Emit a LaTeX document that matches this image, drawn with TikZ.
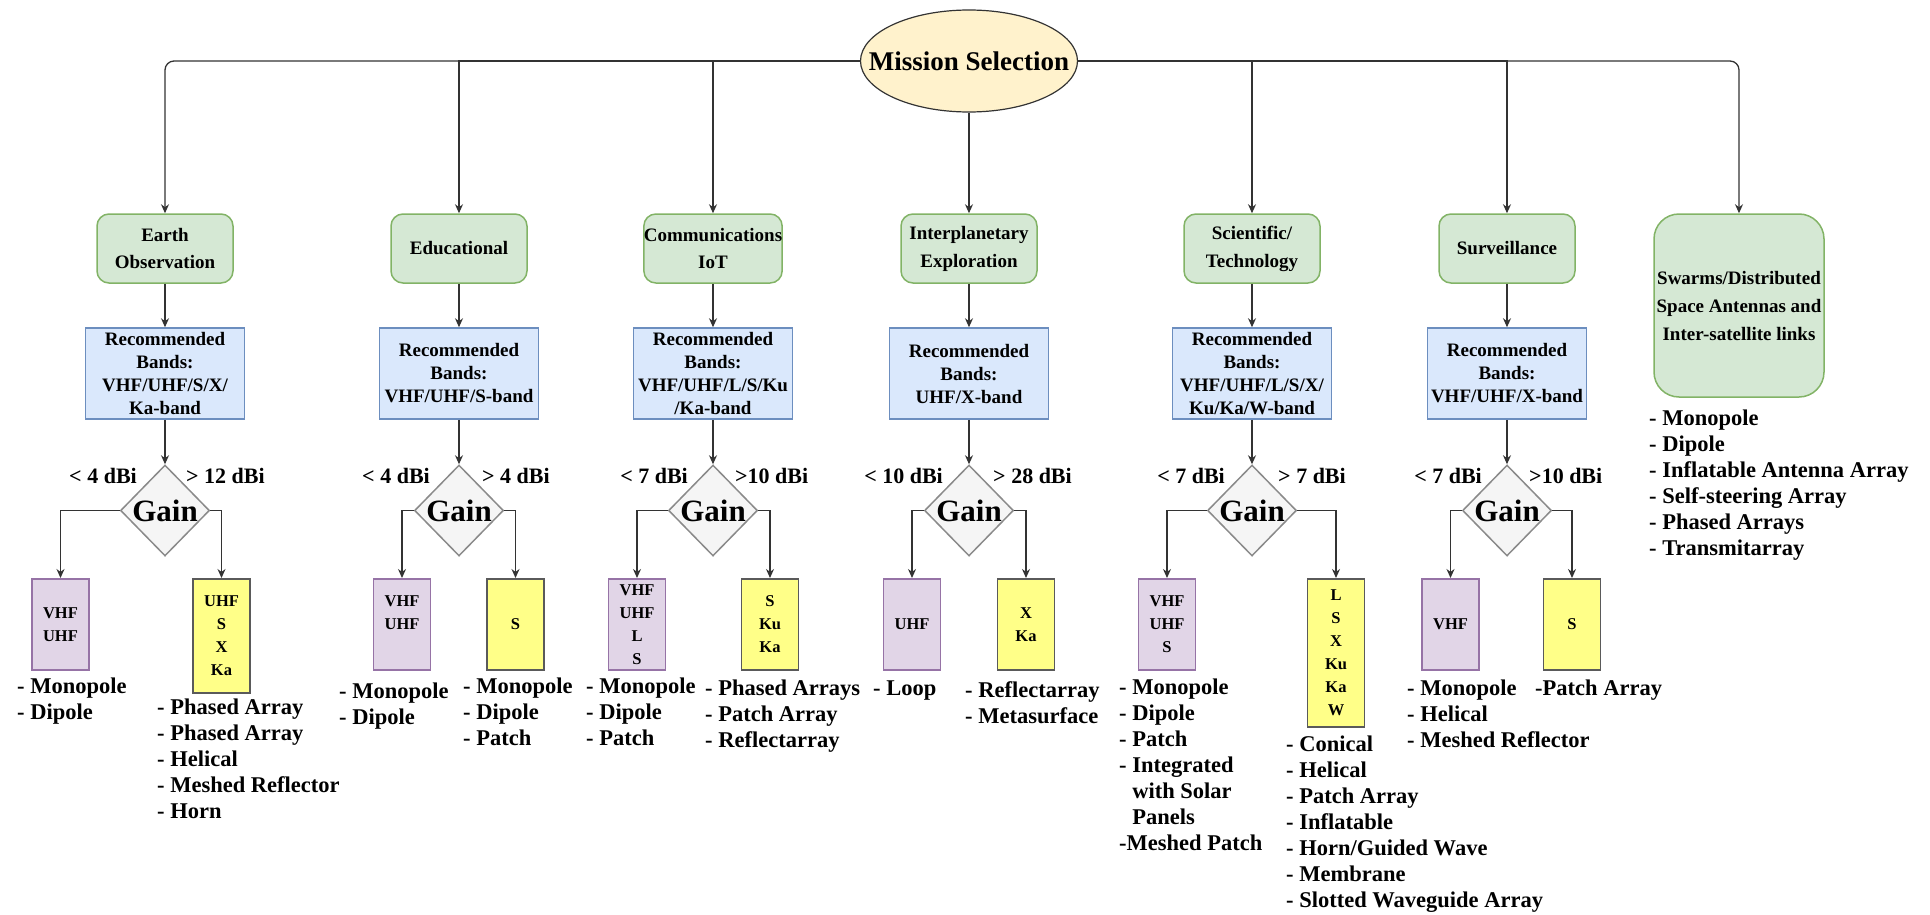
\documentclass[tikz,border=0pt]{standalone}
\usepackage{fontspec}
\setmainfont{Liberation Serif}
\usetikzlibrary{shapes.geometric,arrows.meta}
\definecolor{gfill}{HTML}{D5E8D4}\definecolor{gdraw}{HTML}{82B366}
\definecolor{bfill}{HTML}{DAE8FC}\definecolor{bdraw}{HTML}{6C8EBF}
\definecolor{pfill}{HTML}{E1D5E7}\definecolor{pdraw}{HTML}{9673A6}
\definecolor{yfill}{HTML}{FFFF88}\definecolor{ydraw}{HTML}{5A5A5A}
\definecolor{dfill}{HTML}{F5F5F5}\definecolor{ddraw}{HTML}{8A8A8A}
\definecolor{efill}{HTML}{FFF2CC}\definecolor{edraw}{HTML}{333333}
\definecolor{lcol}{HTML}{333333}
\begin{document}
\begin{tikzpicture}[x=1pt,y=-1pt,
 mission/.style={ellipse,draw=edraw,fill=efill,line width=1.2pt,minimum width=217pt,minimum height=102pt,inner sep=0pt,font=\fontsize{27}{30}\selectfont\bfseries},
 missionbox/.style={rectangle,rounded corners=12pt,draw=gdraw,fill=gfill,line width=1.5pt,minimum width=136pt,minimum height=69pt,inner sep=0pt,align=center,font=\fontsize{19}{28}\selectfont\bfseries},
 bandbox/.style={rectangle,draw=bdraw,fill=bfill,line width=1.5pt,minimum width=159pt,minimum height=91pt,inner sep=0pt,align=center,font=\fontsize{19}{23}\selectfont\bfseries},
 gainbox/.style={diamond,draw=ddraw,fill=dfill,line width=1.5pt,minimum width=89pt,minimum height=91pt,inner sep=0pt,font=\fontsize{31}{31}\selectfont\bfseries},
 lowbox/.style={rectangle,draw=pdraw,fill=pfill,line width=1.5pt,minimum width=57pt,minimum height=91pt,inner sep=0pt,anchor=north,align=center,font=\fontsize{16.5}{23}\selectfont\bfseries},
 highbox/.style={rectangle,draw=ydraw,fill=yfill,line width=1.5pt,minimum width=57pt,minimum height=91pt,inner sep=0pt,anchor=north,align=center,font=\fontsize{16.5}{23}\selectfont\bfseries},
 lbl/.style={inner sep=0pt,font=\fontsize{22}{24}\selectfont\bfseries},
 antlist/.style={inner sep=0pt,anchor=north west,align=left,font=\fontsize{22.5}{26}\selectfont\bfseries},
 conn/.style={draw=lcol,line width=1.3pt,-{Stealth[length=9pt,width=8pt]}},
]
\useasboundingbox (0,0) rectangle (1930,915);
% root
\node[mission] (ms) at (969,61) {\makebox[0pt]{Mission Selection}};
% mission types
\node[missionbox] (g1) at (165,248.5) {Earth\\Observation};
\node[missionbox] (g2) at (459,248.5) {Educational};
\node[missionbox] (g3) at (713,248.5) {Communications\\IoT};
\node[missionbox] (g4) at (969,248.5) {Interplanetary\\Exploration};
\node[missionbox] (g5) at (1252,248.5) {Scientific/\\Technology};
\node[missionbox] (g6) at (1507,248.5) {Surveillance};
\node[missionbox,rounded corners=25pt,minimum width=170pt,minimum height=183pt] (g7) at (1739,305.5) {Swarms/Distributed\\Space Antennas and\\Inter-satellite links};
% bands
\node[bandbox] (b1) at (165,373.5) {Recommended\\Bands:\\VHF/UHF/S/X/\\Ka-band};
\node[bandbox] (b2) at (459,373.5) {Recommended\\Bands:\\VHF/UHF/S-band};
\node[bandbox] (b3) at (713,373.5) {Recommended\\Bands:\\VHF/UHF/L/S/Ku\\/Ka-band};
\node[bandbox] (b4) at (969,373.5) {Recommended\\Bands:\\UHF/X-band};
\node[bandbox] (b5) at (1252,373.5) {Recommended\\Bands:\\VHF/UHF/L/S/X/\\Ku/Ka/W-band};
\node[bandbox] (b6) at (1507,373.5) {Recommended\\Bands:\\VHF/UHF/X-band};
% gain decisions
\foreach \i/\x in {1/165,2/459,3/713,4/969,5/1252,6/1507}
  \node[gainbox] (d\i) at (\x,510.5) {\makebox[0pt]{Gain}};
% gain labels
\node[lbl,anchor=east] (la1) at (137,476) {< 4 dBi};
\node[lbl,anchor=west] (ra1) at (186,476) {> 12 dBi};
\node[lbl,anchor=east] (la2) at (430,476) {< 4 dBi};
\node[lbl,anchor=west] (ra2) at (482,476) {> 4 dBi};
\node[lbl,anchor=east] (la3) at (688,476) {< 7 dBi};
\node[lbl,anchor=west] (ra3) at (735,476) {>10 dBi};
\node[lbl,anchor=east] (la4) at (943,476) {< 10 dBi};
\node[lbl,anchor=west] (ra4) at (993,476) {> 28 dBi};
\node[lbl,anchor=east] (la5) at (1225,476) {< 7 dBi};
\node[lbl,anchor=west] (ra5) at (1278,476) {> 7 dBi};
\node[lbl,anchor=east] (la6) at (1482,476) {< 7 dBi};
\node[lbl,anchor=west] (ra6) at (1529,476) {>10 dBi};
% band result boxes
\node[lowbox] (p1) at (60.5,578) {VHF\\UHF};
\node[highbox,minimum height=114pt] (y1) at (221.5,578) {UHF\\S\\X\\Ka};
\node[lowbox] (p2) at (402,578) {VHF\\UHF\\~};
\node[highbox] (y2) at (515.5,578) {S};
\node[lowbox] (p3) at (637,578) {VHF\\UHF\\L\\S};
\node[highbox] (y3) at (770,578) {S\\Ku\\Ka};
\node[lowbox] (p4) at (912,578) {UHF};
\node[highbox] (y4) at (1026,578) {X\\Ka};
\node[lowbox] (p5) at (1167,578) {VHF\\UHF\\S};
\node[highbox,minimum height=148pt] (y5) at (1336,578) {L\\S\\X\\Ku\\Ka\\W};
\node[lowbox] (p6) at (1450.5,578) {VHF};
\node[highbox] (y6) at (1572,578) {S};
% antenna lists
\node[antlist] (l1) at (17,678) {- Monopole\\- Dipole};
\node[antlist] (r1) at (157,699) {- Phased Array\\- Phased Array\\- Helical\\- Meshed Reflector\\- Horn};
\node[antlist] (l2) at (339,683) {- Monopole\\- Dipole};
\node[antlist] (r2) at (463,678) {- Monopole\\- Dipole\\- Patch};
\node[antlist] (l3) at (586,678) {- Monopole\\- Dipole\\- Patch};
\node[antlist] (r3) at (705,680) {- Phased Arrays\\- Patch Array\\- Reflectarray};
\node[antlist] (l4) at (873,681) {- Loop};
\node[antlist] (r4) at (965,681) {- Reflectarray\\- Metasurface};
\node[antlist] (l5) at (1119,679) {- Monopole\\- Dipole\\- Patch\\- Integrated\\\phantom{- }with Solar\\\phantom{- }Panels\\-Meshed Patch};
\node[antlist] (r5) at (1286,736) {- Conical\\- Helical\\- Patch Array\\- Inflatable\\- Horn/Guided Wave\\- Membrane\\- Slotted Waveguide Array};
\node[antlist] (l6) at (1407,680) {- Monopole\\- Helical\\- Meshed Reflector};
\node[antlist] (r6) at (1535,680) {-Patch Array};
\node[antlist] (l7) at (1649,410) {- Monopole\\- Dipole\\- Inflatable Antenna Array\\- Self-steering Array\\- Phased Arrays\\- Transmitarray};
% connectors from root
\draw[conn,rounded corners=9pt] (ms.west) -| (g1.north);
\draw[conn] (ms.west) -| (g2.north);
\draw[conn] (ms.west) -| (g3.north);
\draw[conn] (ms.south) -- (g4.north);
\draw[conn] (ms.east) -| (g5.north);
\draw[conn] (ms.east) -| (g6.north);
\draw[conn,rounded corners=9pt] (ms.east) -| (g7.north);
% columns
\foreach \i in {1,...,6}{
  \draw[conn] (g\i.south) -- (b\i.north);
  \draw[conn] (b\i.south) -- (d\i.north);
  \draw[conn] (d\i.west) -| (p\i.north);
  \draw[conn] (d\i.east) -| (y\i.north);
}
\end{tikzpicture}
\end{document}
